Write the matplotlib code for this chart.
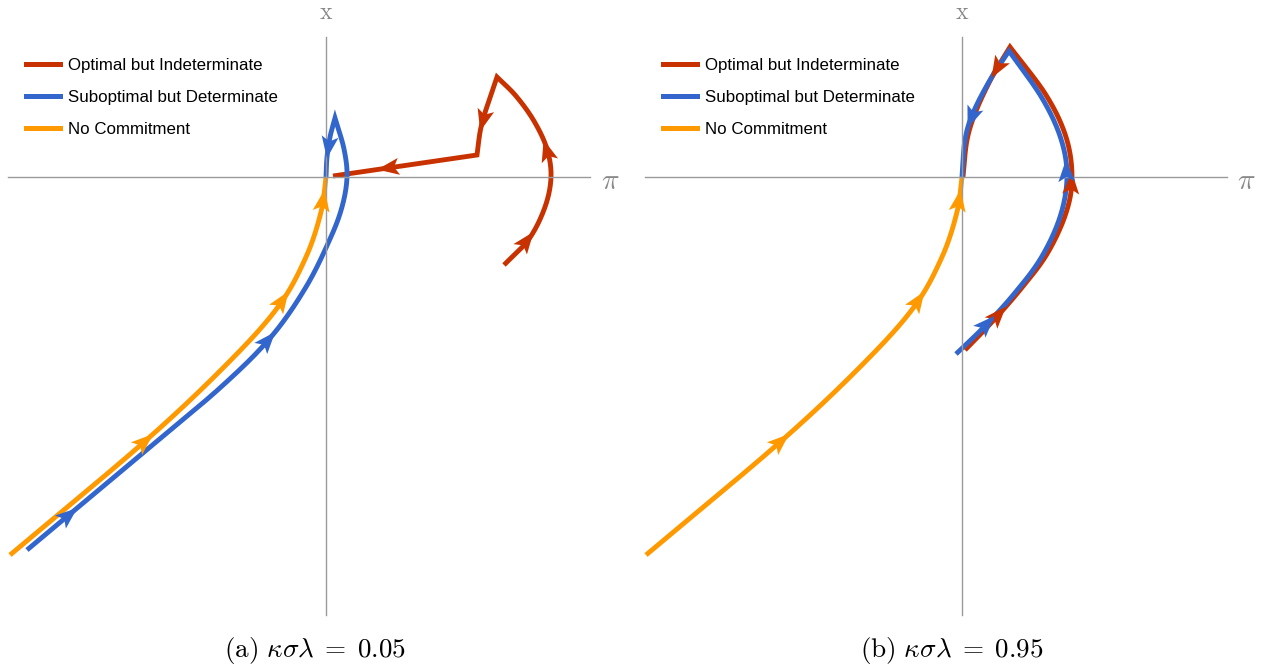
import numpy as np
import matplotlib
matplotlib.use("Agg")
import matplotlib.pyplot as plt
from matplotlib.lines import Line2D

plt.rcParams['mathtext.fontset'] = 'cm'

# colours of the three regimes
red = '#C83200'
blue = '#3366CC'
orange = '#FF9900'
axis_grey = '#9a9a9a'

labels = ['Optimal but Indeterminate', 'Suboptimal but Determinate', 'No Commitment']
captions = [r'$\mathrm{(a)}\ \kappa\sigma\lambda\;=\;0.05$', r'$\mathrm{(b)}\ \kappa\sigma\lambda\;=\;0.95$']

# No commitment path (same in both panels), (pi, x)
nc_pi = [-3.16, -1.83, -1.00, -0.48, -0.20, -0.05, 0.0]
nc_x = [-3.78, -2.66, -1.88, -1.30, -0.80, -0.35, 0.0]
nc_arrows = [0.37, 0.76, 0.975]

# panel (a): kappa*sigma*lambda = 0.05
blue_a_pi = [-2.99, -1.83, -1.05, -0.55, -0.20, 0.04, 0.16, 0.21, 0.18, 0.09, 0.04, 0.01, 0.0]
blue_a_x = [-3.73, -2.76, -2.10, -1.60, -1.10, -0.62, -0.30, 0.0, 0.28, 0.59, 0.40, 0.20, 0.0]
blue_a_breaks = [9]
blue_a_arrows = [0.105, 0.53, 0.97]

red_a_pi = [1.78, 2.03, 2.19, 2.25, 2.21, 2.08, 1.90, 1.71, 1.56, 1.51, 0.07]
red_a_x = [-0.88, -0.62, -0.30, 0.0, 0.28, 0.56, 0.81, 1.00, 0.54, 0.22, 0.01]
red_a_breaks = [7, 9]
red_a_arrows = [0.10, 0.316, 0.62, 0.90]

# panel (b): kappa*sigma*lambda = 0.95
blue_b_pi = [-0.06, 0.22, 0.52, 0.79, 0.98, 1.05, 0.99, 0.80, 0.47, 0.28, 0.11, 0.03, 0.0]
blue_b_x = [-1.77, -1.50, -1.17, -0.81, -0.40, 0.0, 0.38, 0.79, 1.26, 0.97, 0.64, 0.37, 0.0]
blue_b_breaks = [8]
blue_b_arrows = [0.11, 0.47, 0.90]

red_b_pi = [0.03, 0.30, 0.58, 0.85, 1.04, 1.10, 1.04, 0.84, 0.48, 0.30, 0.14, 0.05, 0.01]
red_b_x = [-1.73, -1.45, -1.13, -0.77, -0.36, 0.0, 0.40, 0.82, 1.30, 1.00, 0.66, 0.37, 0.0]
red_b_breaks = [8]
red_b_arrows = [0.12, 0.43, 0.79]


def catmull(px, py, n=40):
    p = np.column_stack([px, py]).astype(float)
    p = np.vstack([2 * p[0] - p[1], p, 2 * p[-1] - p[-2]])
    out = []
    t = np.linspace(0, 1, n, endpoint=False)[:, None]
    for i in range(1, len(p) - 2):
        p0, p1, p2, p3 = p[i - 1], p[i], p[i + 1], p[i + 2]
        seg = 0.5 * ((2 * p1) + (-p0 + p2) * t + (2 * p0 - 5 * p1 + 4 * p2 - p3) * t ** 2
                     + (-p0 + 3 * p1 - 3 * p2 + p3) * t ** 3)
        out.append(seg)
    out.append(p[-2][None, :])
    return np.vstack(out)


def smooth(px, py, breaks=()):
    idx = [0] + list(breaks) + [len(px) - 1]
    parts = []
    for a, b in zip(idx[:-1], idx[1:]):
        s = catmull(px[a:b + 1], py[a:b + 1])
        parts.append(s if not parts else s[1:])
    c = np.vstack(parts)
    return c[:, 0], c[:, 1]


def draw_path(ax, px, py, color, fracs, breaks=()):
    xs, ys = smooth(px, py, breaks)
    ax.plot(xs, ys, color=color, lw=3.5, solid_capstyle='butt', solid_joinstyle='miter', clip_on=False)
    s = np.concatenate([[0], np.cumsum(np.hypot(np.diff(xs), np.diff(ys)))])
    L, w, notch = 0.22, 0.085, 0.05
    for f in fracs:
        st = f * s[-1]
        tip = np.array([np.interp(st, s, xs), np.interp(st, s, ys)])
        back = np.array([np.interp(st - L, s, xs), np.interp(st - L, s, ys)])
        d = (tip - back) / np.hypot(*(tip - back))
        n = np.array([-d[1], d[0]])
        poly = np.array([tip, tip - L * d + w * n, tip - (L - notch) * d, tip - L * d - w * n])
        ax.fill(poly[:, 0], poly[:, 1], color=color, lw=0, clip_on=False, zorder=3)


W, H = 1268, 669
fig = plt.figure(figsize=(W / 100, H / 100), dpi=100)

panels = [
    dict(left=8, origin=326, reds=(red_a_pi, red_a_x, red_a_breaks, red_a_arrows),
         blues=(blue_a_pi, blue_a_x, blue_a_breaks, blue_a_arrows), cap_x=315),
    dict(left=645, origin=962, reds=(red_b_pi, red_b_x, red_b_breaks, red_b_arrows),
         blues=(blue_b_pi, blue_b_x, blue_b_breaks, blue_b_arrows), cap_x=952),
]

for k, p in enumerate(panels):
    top, bottom, width = 37, 615, 582
    ax = fig.add_axes([p['left'] / W, 1 - bottom / H, width / W, (bottom - top) / H])
    ax.set_xlim((p['left'] - p['origin']) / 100, (p['left'] + width - p['origin']) / 100)
    ax.set_ylim((177 - bottom) / 100, (177 - top) / 100)
    ax.set_aspect('equal')
    for side in ['top', 'right']:
        ax.spines[side].set_visible(False)
    for side in ['left', 'bottom']:
        ax.spines[side].set_position('zero')
        ax.spines[side].set_color(axis_grey)
        ax.spines[side].set_linewidth(1.0)
    ax.set_xticks([])
    ax.set_yticks([])
    ax.patch.set_alpha(0)

    rp, rx, rb, ra = p['reds']
    bp, bx, bb, ba = p['blues']
    draw_path(ax, rp, rx, red, ra, rb)
    draw_path(ax, bp, bx, blue, ba, bb)
    draw_path(ax, nc_pi, nc_x, orange, nc_arrows)

    ax.text(0, 1.65, r'$\mathrm{x}$', color='#888888', fontsize=17, ha='center', va='center', clip_on=False)
    ax.text(2.84, -0.04, r'$\pi$', color='#888888', fontsize=21, ha='center', va='center', clip_on=False)

    handles = [Line2D([], [], color=c, lw=3.6) for c in (red, blue, orange)]
    ax.legend(handles, labels, loc='upper left', bbox_to_anchor=((p['left'] + 18) / W, 1 - 58 / H),
              bbox_transform=fig.transFigure, frameon=False, borderpad=0, borderaxespad=0,
              handlelength=2.0, handletextpad=0.47, labelspacing=1.0,
              prop={'family': 'Liberation Sans', 'size': 12.2})

    fig.text(p['cap_x'] / W, 1 - 650 / H, captions[k], fontsize=19.5, ha='center', va='center')

fig.savefig('out.png', dpi=100)
